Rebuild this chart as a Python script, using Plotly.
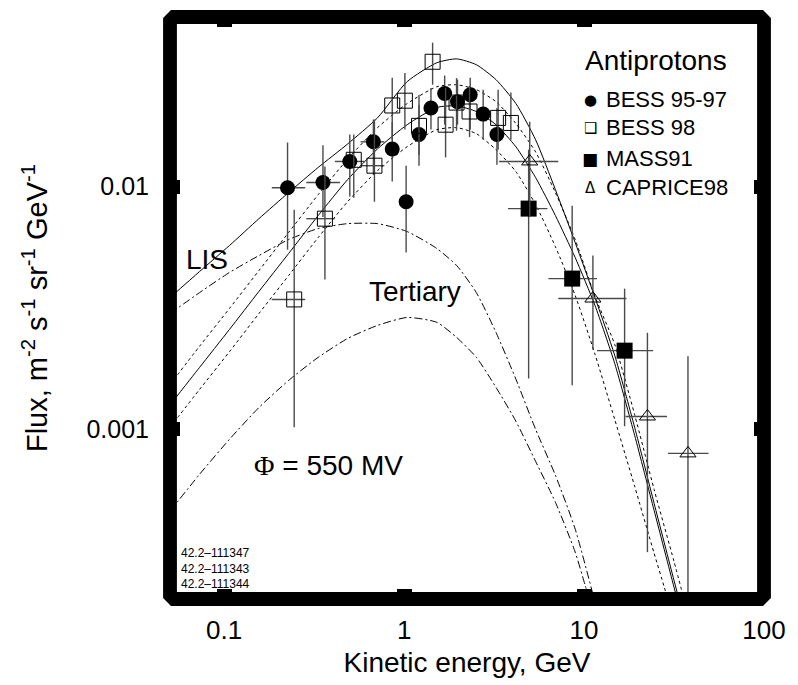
import math
import plotly.graph_objects as go

# ---------------- data ----------------
# model curves: kinetic energy grid (GeV)
curve_x = [0.05, 0.073, 0.107, 0.156, 0.228, 0.333, 0.486, 0.711, 1.04, 1.52, 1.96,
           2.52, 3.24, 4.18, 5.38, 6.93, 8.93, 11.5, 14.8, 19.1, 24.5, 31.6, 35.9]
# interstellar (LIS) total antiproton flux
lis_total = [0.00349, 0.00447, 0.00572, 0.00738, 0.00945, 0.0120, 0.0150, 0.0192, 0.0271,
             0.0324, 0.0336, 0.0318, 0.0276, 0.0220, 0.0156, 0.00972, 0.00588, 0.00349,
             0.00202, 0.00102, 0.000496, 0.000239, 0.000167]
# modulated flux (Phi = 550 MV), central
mod_central = [0.00126, 0.0018, 0.00258, 0.0037, 0.0053, 0.0076, 0.0107, 0.0143, 0.0180,
               0.0212, 0.0215, 0.0204, 0.0180, 0.0146, 0.0109, 0.0076, 0.0051, 0.00324,
               0.00187, 0.000945, 0.000464, 0.000224, 0.000156]
# modulated flux, upper band
mod_upper = [0.00153, 0.0022, 0.00315, 0.00451, 0.00647, 0.00927, 0.0130, 0.0175, 0.0220,
             0.0258, 0.0263, 0.0251, 0.0224, 0.0182, 0.0139, 0.00945, 0.00605, 0.00353,
             0.00224, 0.00115, 0.000566, 0.000286, 0.0002]
# modulated flux, lower band
lower_x = [0.05, 0.073, 0.107, 0.156, 0.228, 0.333, 0.486, 0.711, 1.04, 1.52, 1.96,
           2.52, 3.24, 4.18, 5.38, 6.93, 8.93, 11.5, 14.8, 19.1, 24.5, 27.9, 31.6]
mod_lower = [0.00102, 0.00146, 0.00209, 0.0030, 0.0043, 0.00617, 0.00868, 0.01164, 0.01461,
             0.01717, 0.0175, 0.01653, 0.0142, 0.01153, 0.00843, 0.00566, 0.00356, 0.00204,
             0.0011, 0.000583, 0.000309, 0.000224, 0.000162]
# tertiary component, interstellar
tert_lis_x = [0.05, 0.073, 0.107, 0.156, 0.228, 0.333, 0.486, 0.711, 1.04, 1.52, 1.96,
              2.52, 3.24, 4.18, 5.38, 6.93, 8.93, 11.5]
tert_lis = [0.0030, 0.00366, 0.00443, 0.0052, 0.00605, 0.00672, 0.00704, 0.00704, 0.00653,
            0.00556, 0.00473, 0.00366, 0.00251, 0.00161, 0.0010, 0.000647, 0.000388, 0.000194]
# tertiary component, modulated
tert_mod_x = [0.05, 0.073, 0.107, 0.156, 0.228, 0.333, 0.486, 0.711, 1.04, 1.52, 1.96,
              2.52, 3.24, 4.18, 5.38, 6.93, 8.93, 10.1, 11.5]
tert_mod = [0.00046, 0.000653, 0.00091, 0.00123, 0.00159, 0.00198, 0.00237, 0.00268, 0.00289,
            0.00276, 0.00239, 0.00198, 0.00149, 0.00108, 0.000738, 0.000501, 0.000312,
            0.00023, 0.000165]

# BESS 95-97
bess9597_E = [0.225, 0.354, 0.499, 0.675, 0.859, 1.026, 1.21, 1.41, 1.68, 1.98, 2.33, 2.75, 3.28]
bess9597_F = [0.0099, 0.0104, 0.0127, 0.0153, 0.0143, 0.00867, 0.0164, 0.0211, 0.0242, 0.0224,
              0.0239, 0.0199, 0.0164]
bess9597_Fhi = [0.0152, 0.0148, 0.0164, 0.0189, 0.0185, 0.0122, 0.0217, 0.0255, 0.0287, 0.0276,
                0.0281, 0.0251, 0.0211]
bess9597_Flo = [0.0055, 0.0075, 0.0091, 0.0112, 0.0105, 0.00535, 0.0122, 0.0172, 0.018, 0.018,
                0.0172, 0.0156, 0.0123]
bess9597_Elo = [0.184, 0.286, 0.412, 0.573, 0.859, 1.026, 1.21, 1.41, 1.68, 1.98, 2.33, 2.75, 3.28]
bess9597_Ehi = [0.282, 0.44, 0.603, 0.776, 0.859, 1.026, 1.21, 1.41, 1.68, 1.98, 2.33, 2.75, 3.28]

# BESS 98
bess98_E = [0.245, 0.363, 0.525, 0.684, 0.859, 1.01, 1.21, 1.44, 1.70, 1.956, 2.31, 3.33, 3.92]
bess98_F = [0.00343, 0.00738, 0.0129, 0.0122, 0.0216, 0.0226, 0.0178, 0.0327, 0.018, 0.0222,
            0.0204, 0.0192, 0.0183]
bess98_Fhi = [0.00804, 0.0121, 0.0164, 0.0189, 0.0281, 0.0294, 0.0239, 0.0392, 0.0255, 0.028,
              0.026, 0.0251, 0.0244]
bess98_Flo = [0.00102, 0.00414, 0.009, 0.00867, 0.0156, 0.0172, 0.0135, 0.0263, 0.0132, 0.017,
              0.016, 0.0142, 0.0156]
bess98_Elo = [0.184, 0.286, 0.525, 0.573, 0.859, 1.01, 1.21, 1.44, 1.70, 1.956, 2.31, 3.33, 3.92]
bess98_Ehi = [0.282, 0.412, 0.525, 0.776, 0.859, 1.01, 1.21, 1.44, 1.70, 1.956, 2.31, 3.33, 3.92]

# MASS91
mass_E = [4.92, 8.59, 16.8]
mass_F = [0.00812, 0.00418, 0.00211]
mass_Fhi = [0.0142, 0.00835, 0.0038]
mass_Flo = [0.00162, 0.00152, 0.00103]
mass_Elo = [3.78, 6.34, 11.8]
mass_Ehi = [6.26, 11.8, 24.2]

# CAPRICE98
cap_E = [4.99, 11.2, 22.5, 37.8]
cap_F = [0.0127, 0.00346, 0.00113, 0.000796]
cap_Fhi = [0.0185, 0.0052, 0.0025, 0.002]
cap_Flo = [0.0075, 0.00213, 0.000312, 0.0001]
cap_Elo = [3.37, 7.19, 17.0, 29.3]
cap_Ehi = [7.19, 17.2, 28.9, 49.2]

series_names = ["BESS 95-97", "BESS 98", "MASS91", "CAPRICE98"]
legend_symbols = ["\u25CF", "\u2751", "\u25A0", "\u0394"]

x_tickvals = [0.1, 1, 10, 100]
x_ticktext = ["0.1", "1", "10", "100"]
y_tickvals = [0.001, 0.01]
y_ticktext = ["0.001", "0.01"]
x_range = [0.05, 100]
y_range = [0.0002, 0.05]
small_labels = ["42.2\u2013111347", "42.2\u2013111343", "42.2\u2013111344"]

# ---------------- figure ----------------
FONT = "Liberation Sans, Arial, Helvetica, sans-serif"
fig = go.Figure()


def curve(x, y, dash):
    fig.add_trace(go.Scatter(x=x, y=y, mode="lines",
                             line=dict(color="black", width=1, dash=dash, shape="spline", smoothing=0.6),
                             hoverinfo="skip", showlegend=False))


curve(curve_x, lis_total, "solid")
curve(tert_lis_x, tert_lis, "8px,3px,2px,3px")
curve(curve_x, mod_upper, "3px,3px")
curve(curve_x, mod_central, "solid")
curve(lower_x, mod_lower, "3px,3px")
curve(tert_mod_x, tert_mod, "8px,3px,2px,3px")


def points(name, E, F, Fhi, Flo, Elo, Ehi, marker):
    fig.add_trace(go.Scatter(
        x=E, y=F, mode="markers", name=name, marker=marker,
        error_y=dict(type="data", symmetric=False,
                     array=[h - f for h, f in zip(Fhi, F)],
                     arrayminus=[f - l for f, l in zip(F, Flo)],
                     width=0, thickness=1.4, color="#4a4a4a"),
        error_x=dict(type="data", symmetric=False,
                     array=[h - e for h, e in zip(Ehi, E)],
                     arrayminus=[e - l for e, l in zip(E, Elo)],
                     width=0, thickness=1.4, color="#4a4a4a"),
        showlegend=False))


points(series_names[0], bess9597_E, bess9597_F, bess9597_Fhi, bess9597_Flo, bess9597_Elo, bess9597_Ehi,
       dict(symbol="circle", size=15, color="black", line=dict(width=0)))
points(series_names[1], bess98_E, bess98_F, bess98_Fhi, bess98_Flo, bess98_Elo, bess98_Ehi,
       dict(symbol="square-open", size=15, color="black", line=dict(width=1, color="black")))
points(series_names[2], mass_E, mass_F, mass_Fhi, mass_Flo, mass_Elo, mass_Ehi,
       dict(symbol="square", size=16, color="black", line=dict(width=0)))
points(series_names[3], cap_E, cap_F, cap_Fhi, cap_Flo, cap_Elo, cap_Ehi,
       dict(symbol="triangle-up-open", size=14, color="black", line=dict(width=1, color="black")))

# thick frame with chamfered outer corners (paper coords)
W, H = 602.0, 583.0
ex, ey = 7 / W, 7 / H
cx, cy = 8 / W, 8 / H
outer = [(-ex + cx, 1 + ey), (1 + ex - cx, 1 + ey), (1 + ex, 1 + ey - cy), (1 + ex, -ey + cy),
         (1 + ex - cx, -ey), (-ex + cx, -ey), (-ex, -ey + cy), (-ex, 1 + ey - cy)]
inner = [(ex, 1 - ey), (ex, ey), (1 - ex, ey), (1 - ex, 1 - ey)]


def sub(pts):
    return "M " + " L ".join(f"{a:.5f},{b:.5f}" for a, b in pts) + " Z"


fig.add_shape(type="path", xref="paper", yref="paper", path=sub(outer) + " " + sub(inner),
              fillcolor="black", line=dict(width=0), layer="above")


def ann(text, x, y, size, xanchor="center", yanchor="middle", family=FONT, align="center"):
    fig.add_annotation(text=text, x=x, y=y, xref="paper", yref="paper", showarrow=False,
                       xanchor=xanchor, yanchor=yanchor, align=align,
                       font=dict(size=size, color="black", family=family))


def px(xp):
    return (xp - 170) / W


def py(yp):
    return (600 - yp) / H


ann("Antiprotons", px(589), py(61), 28, xanchor="left")
leg_y = [100, 128, 159, 188]
sym_size = [15, 15, 17, 15]
for name, sym, yy, ss in zip(series_names, legend_symbols, leg_y, sym_size):
    ann(sym, px(596), py(yy), ss, family="DejaVu Sans, sans-serif")
    ann(name, px(610), py(yy), 22, xanchor="left")

ann("LIS", px(208), py(260), 28)
ann("Tertiary", px(418), py(292), 28)
ann('<span style="font-family:Liberation Serif">\u03A6</span> = 550 MV', px(331), py(466), 28)
ann("<br>".join(small_labels), px(179), py(569), 12, xanchor="left", align="left")

fig.update_xaxes(type="log", range=[math.log10(x_range[0]), math.log10(x_range[1])],
                 tickvals=x_tickvals, ticktext=x_ticktext, ticks="inside", ticklen=10, tickwidth=15,
                 tickcolor="black", mirror="ticks", showline=False, showgrid=False, zeroline=False,
                 tickfont=dict(size=26, family=FONT, color="black"), ticklabelstandoff=13,
                 title=dict(text="Kinetic energy, GeV", font=dict(size=28, family=FONT, color="black"),
                            standoff=8))
fig.update_yaxes(type="log", range=[math.log10(y_range[0]), math.log10(y_range[1])],
                 tickvals=y_tickvals, ticktext=y_ticktext, ticks="inside", ticklen=10, tickwidth=14,
                 tickcolor="black", mirror="ticks", showline=False, showgrid=False, zeroline=False,
                 tickfont=dict(size=25, family=FONT, color="black"), ticklabelstandoff=20,
                 title=dict(text="Flux, m<sup>-2</sup> s<sup>-1</sup> sr<sup>-1</sup> GeV<sup>-1</sup>",
                            font=dict(size=29, family=FONT, color="black"), standoff=30))

fig.update_layout(width=798, height=685, margin=dict(l=170, r=26, t=17, b=85, pad=0),
                  paper_bgcolor="white", plot_bgcolor="white", showlegend=False)

fig.write_html("out.html")
